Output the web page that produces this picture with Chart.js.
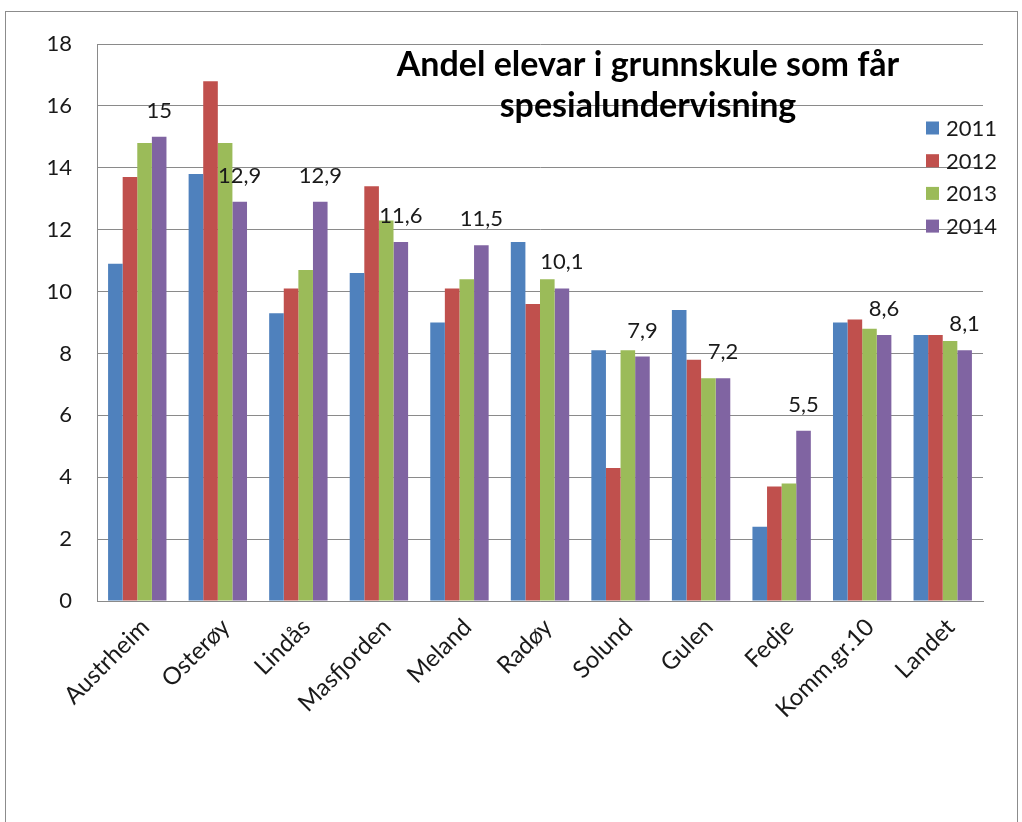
<!DOCTYPE html>
<html>
<head>
<meta charset="utf-8">
<script src="https://cdn.jsdelivr.net/npm/chart.js@4.4.1/dist/chart.umd.min.js"></script>
<style>
    html, body { margin: 0; padding: 0; background: #fff; }
    #frame {
        position: absolute; left: 5px; top: 11px;
        width: 1011px; height: 830px;
        border: 1px solid #8c8c8c;
    }
    #chart { position: absolute; left: 0; top: 0; }
</style>
</head>
<body>
<div id="frame"></div>
<canvas id="chart" width="1022" height="822"></canvas>
<script>
// Chart data
const kommunar = ['Austrheim', 'Osterøy', 'Lindås', 'Masfjorden', 'Meland', 'Radøy',
    'Solund', 'Gulen', 'Fedje', 'Komm.gr.10', 'Landet'];
const years = ['2011', '2012', '2013', '2014'];
const values2011 = [10.9, 13.8, 9.3, 10.6, 9.0, 11.6, 8.1, 9.4, 2.4, 9.0, 8.6];
const values2012 = [13.7, 16.8, 10.1, 13.4, 10.1, 9.6, 4.3, 7.8, 3.7, 9.1, 8.6];
const values2013 = [14.8, 14.8, 10.7, 12.3, 10.4, 10.4, 8.1, 7.2, 3.8, 8.8, 8.4];
const values2014 = [15.0, 12.9, 12.9, 11.6, 11.5, 10.1, 7.9, 7.2, 5.5, 8.6, 8.1];
const yTicks = [0, 2, 4, 6, 8, 10, 12, 14, 16, 18];
const titleLines = ['Andel elevar i grunnskule som får', 'spesialundervisning'];

const colors = ['#4f81bd', '#c0504d', '#9bbb59', '#8064a2'];
const FONT = 'Lato, "Open Sans", sans-serif';
const gridColor = '#8a8a8a';

// Labels over the 2014 bars, decimal comma
const barLabels = {
    id: 'barLabels',
    afterDatasetsDraw(chart) {
        const ctx = chart.ctx;
        const meta = chart.getDatasetMeta(3);
        ctx.save();
        ctx.font = '22px ' + FONT;
        ctx.fillStyle = '#1a1a1a';
        ctx.textAlign = 'center';
        ctx.textBaseline = 'alphabetic';
        meta.data.forEach((bar, i) => {
            const txt = String(values2014[i]).replace('.', ',');
            ctx.fillText(txt, bar.x, bar.y - 19);
        });
        ctx.restore();
    }
};

// Title and legend drawn inside the plot area
const overlay = {
    id: 'overlay',
    afterDraw(chart) {
        const ctx = chart.ctx;
        ctx.save();
        ctx.fillStyle = '#000';
        ctx.textAlign = 'center';
        ctx.textBaseline = 'alphabetic';
        ctx.font = 'bold 34px ' + FONT;
        ctx.fillText(titleLines[0], 648, 76);
        ctx.fillText(titleLines[1], 648, 117);

        ctx.font = '22px ' + FONT;
        ctx.textAlign = 'left';
        ctx.textBaseline = 'middle';
        years.forEach((y, i) => {
            const cy = 128 + i * 32.7;
            ctx.fillStyle = colors[i];
            ctx.fillRect(926, cy - 6.5, 13, 13);
            ctx.fillStyle = '#1a1a1a';
            ctx.fillText(y, 946, cy + 1);
        });
        ctx.restore();
    }
};

const allValues = [values2011, values2012, values2013, values2014];

new Chart(document.getElementById('chart'), {
    type: 'bar',
    data: {
        labels: kommunar,
        datasets: years.map((y, i) => ({
            label: y,
            data: allValues[i],
            backgroundColor: colors[i],
            borderWidth: 0,
            categoryPercentage: 0.725,
            barPercentage: 1.0
        }))
    },
    options: {
        responsive: false,
        animation: false,
        layout: { padding: { left: 0, right: 39, top: 44, bottom: 0 } },
        plugins: {
            legend: { display: false },
            title: { display: false },
            tooltip: { enabled: false }
        },
        scales: {
            x: {
                grid: { display: false },
                border: { display: true, color: gridColor, width: 1 },
                ticks: {
                    autoSkip: false,
                    maxRotation: 45,
                    minRotation: 45,
                    padding: 4,
                    labelOffset: 8,
                    color: '#1a1a1a',
                    font: { family: FONT, size: 24 }
                },
                afterFit(scale) { scale.height = 221; }
            },
            y: {
                min: 0,
                max: 18,
                afterBuildTicks(scale) { scale.ticks = yTicks.map(v => ({ value: v })); },
                grid: { color: gridColor, lineWidth: 1, drawTicks: false },
                border: { display: true, color: gridColor, width: 1 },
                ticks: {
                    padding: 25,
                    color: '#1a1a1a',
                    font: { family: FONT, size: 22 }
                },
                afterFit(scale) { scale.width = 97; }
            }
        }
    },
    plugins: [barLabels, overlay]
});
</script>
</body>
</html>
